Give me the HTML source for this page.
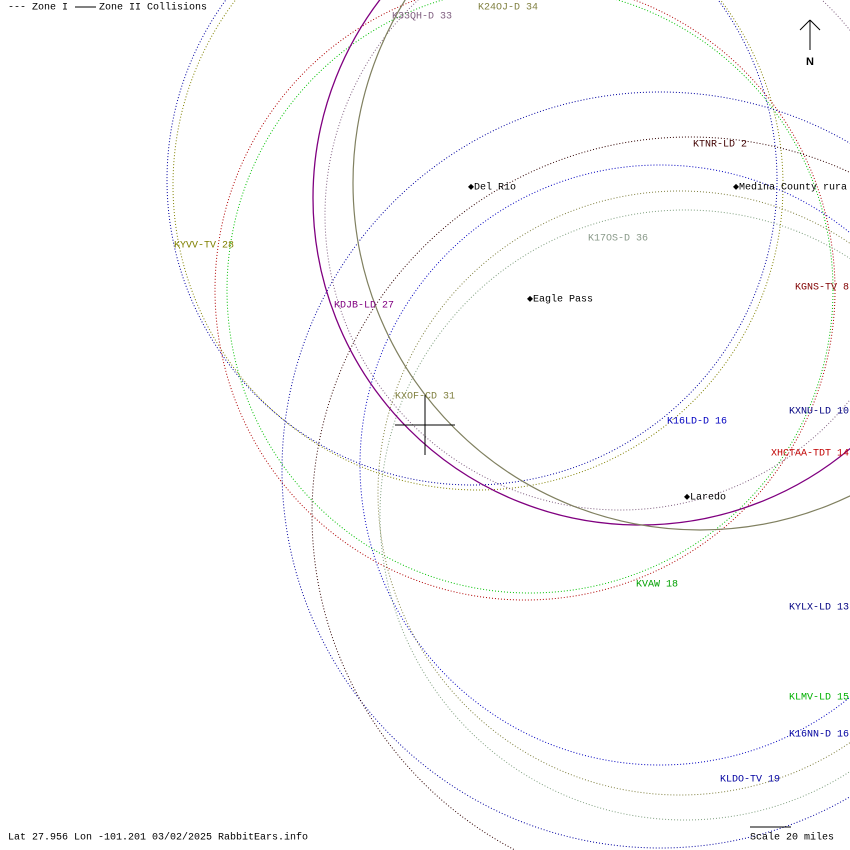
<!DOCTYPE html>
<html><head><meta charset="utf-8"><style>
html,body{margin:0;padding:0;background:#fff;overflow:hidden;}
svg{display:block;}
text{font-family:"Liberation Mono",monospace;font-size:10px;dominant-baseline:middle;}
</style></head><body>
<svg width="850" height="850" viewBox="0 0 850 850" xmlns="http://www.w3.org/2000/svg">
<g fill="none" stroke-width="1">
<circle cx="472" cy="180" r="305" stroke="#0000a0" stroke-dasharray="1 2"/>
<circle cx="478" cy="185" r="305" stroke="#808000" stroke-dasharray="1 2"/>
<circle cx="525" cy="290" r="310" stroke="#b00000" stroke-dasharray="1 2"/>
<circle cx="530" cy="290" r="303" stroke="#00c000" stroke-dasharray="1 2"/>
<circle cx="620" cy="215" r="295" stroke="#806080" stroke-dasharray="1 2"/>
<circle cx="660" cy="470" r="378" stroke="#0000a0" stroke-dasharray="1 2"/>
<circle cx="660" cy="465" r="300" stroke="#0000c0" stroke-dasharray="1 2"/>
<circle cx="690" cy="515" r="378" stroke="#300000" stroke-dasharray="1 2"/>
<circle cx="680" cy="493" r="302" stroke="#808040" stroke-dasharray="1 2"/>
<circle cx="685" cy="515" r="305" stroke="#80a080" stroke-dasharray="1 2"/>
<circle cx="640" cy="198" r="327" stroke="#800080" stroke-width="1.3"/>
<circle cx="700" cy="183" r="347" stroke="#808060" stroke-width="1.2"/>
<line x1="395" y1="425" x2="455" y2="425" stroke="#000"/>
<line x1="425" y1="395" x2="425" y2="455" stroke="#000"/>
<line x1="810" y1="20" x2="810" y2="50" stroke="#000"/>
<line x1="810" y1="20" x2="800" y2="30" stroke="#000"/>
<line x1="810" y1="20" x2="820" y2="30" stroke="#000"/>
<line x1="75" y1="7" x2="96" y2="7" stroke="#000"/>
<line x1="750" y1="827" x2="791" y2="827" stroke="#000"/>
</g>
<text x="8" y="7" fill="#000">--- Zone I</text>
<text x="99" y="7" fill="#000">Zone II Collisions</text>
<text x="392" y="16" fill="#806080">K33QH-D 33</text>
<text x="478" y="7" fill="#808040">K24OJ-D 34</text>
<text x="806" y="62" fill="#000" font-weight="bold" style="font-family:'Liberation Sans',sans-serif;font-size:11px">N</text>
<text x="693" y="144" fill="#400000">KTNR-LD 2</text>
<text x="468" y="187" fill="#000">◆Del Rio</text>
<text x="733" y="187" fill="#000">◆Medina County rura</text>
<text x="174" y="245" fill="#808000">KYVV-TV 28</text>
<text x="588" y="238" fill="#8a9a8a">K17OS-D 36</text>
<text x="527" y="299" fill="#000">◆Eagle Pass</text>
<text x="795" y="287" fill="#800000">KGNS-TV 8</text>
<text x="334" y="305" fill="#800080">KDJB-LD 27</text>
<text x="395" y="396" fill="#808040">KXOF-CD 31</text>
<text x="667" y="421" fill="#0000c0">K16LD-D 16</text>
<text x="789" y="411" fill="#000080">KXNU-LD 10</text>
<text x="771" y="453" fill="#c00000">XHCTAA-TDT 14</text>
<text x="684" y="497" fill="#000">◆Laredo</text>
<text x="636" y="584" fill="#00a000">KVAW 18</text>
<text x="789" y="607" fill="#000080">KYLX-LD 13</text>
<text x="789" y="697" fill="#00b000">KLMV-LD 15</text>
<text x="789" y="734" fill="#0000a0">K16NN-D 16</text>
<text x="720" y="779" fill="#0000a0">KLDO-TV 19</text>
<text x="8" y="837" fill="#000">Lat 27.956 Lon -101.201 03/02/2025 RabbitEars.info</text>
<text x="750" y="837" fill="#000">Scale 20 miles</text>
</svg>
</body></html>
